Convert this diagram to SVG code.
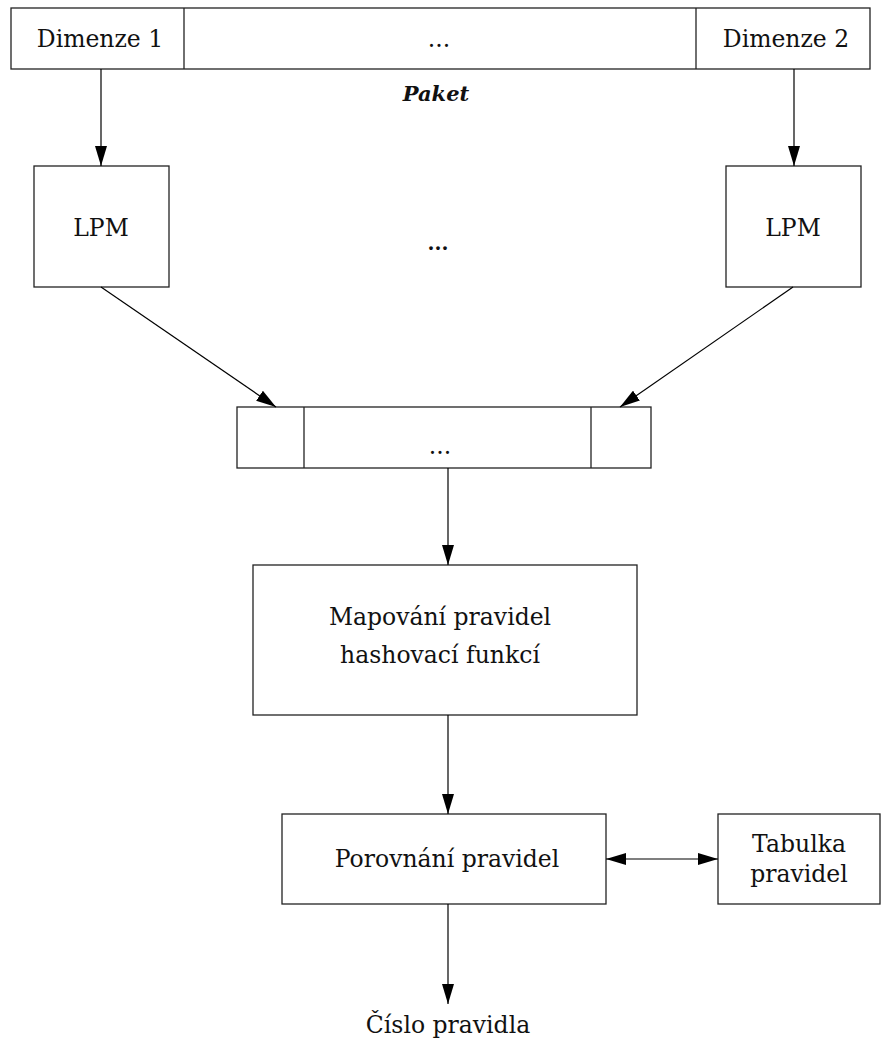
<svg xmlns="http://www.w3.org/2000/svg" width="896" height="1041" viewBox="0 0 896 1041">
  <defs>
    <marker id="arrow" viewBox="0 0 20 12" refX="20" refY="6" markerWidth="20" markerHeight="12" markerUnits="userSpaceOnUse" orient="auto-start-reverse">
      <path d="M0,0 L20,6 L0,12 Z" fill="#000"/>
    </marker>
    <style>
      rect, line.div { fill: #fff; stroke: #222; stroke-width: 1.3; }
      line.div { fill: none; }
      .edge { stroke: #000; stroke-width: 1.2; fill: none; marker-end: url(#arrow); }
      text { font-family: "DejaVu Serif", "Liberation Serif", serif; font-size: 23.5px; fill: #111; text-anchor: middle; }
      .title { font-weight: bold; font-style: italic; font-size: 21px; }
      .dots { font-weight: bold; font-size: 20px; }
    </style>
  </defs>

  <!-- packet header split into fields -->
  <g id="paket">
    <rect x="11" y="8" width="859" height="61"/>
    <line class="div" x1="184" y1="8" x2="184" y2="69"/>
    <line class="div" x1="696" y1="8" x2="696" y2="69"/>
    <text x="100" y="47">Dimenze 1</text>
    <text x="439" y="47">...</text>
    <text x="786" y="47">Dimenze 2</text>
    <text class="title" x="436" y="101">Paket</text>
  </g>

  <!-- longest prefix match engines -->
  <g id="lpm1">
    <rect x="34" y="166" width="135" height="121"/>
    <text x="101" y="236">LPM</text>
  </g>
  <g id="lpm-more">
    <text class="dots" x="438" y="250">...</text>
  </g>
  <g id="lpm2">
    <rect x="726" y="166" width="135" height="121"/>
    <text x="793" y="236">LPM</text>
  </g>

  <!-- concatenated LPM results -->
  <g id="vysledky">
    <rect x="237" y="407" width="414" height="61"/>
    <line class="div" x1="304" y1="407" x2="304" y2="468"/>
    <line class="div" x1="591" y1="407" x2="591" y2="468"/>
    <text x="440" y="454">...</text>
  </g>

  <g id="mapovani">
    <rect x="253" y="565" width="384" height="150"/>
    <text x="440" y="625">Mapování pravidel</text>
    <text x="440" y="663">hashovací funkcí</text>
  </g>

  <g id="porovnani">
    <rect x="282" y="814" width="324" height="90"/>
    <text x="447" y="867">Porovnání pravidel</text>
  </g>

  <g id="tabulka">
    <rect x="718" y="814" width="162" height="90"/>
    <text x="799" y="852">Tabulka</text>
    <text x="799" y="882">pravidel</text>
  </g>

  <g id="vystup">
    <text x="448" y="1033">Číslo pravidla</text>
  </g>

  <!-- connectors -->
  <g id="connectors">
    <line class="edge" x1="101" y1="69" x2="101" y2="166"/>
    <line class="edge" x1="794" y1="69" x2="794" y2="166"/>
    <line class="edge" x1="101" y1="287" x2="276" y2="407"/>
    <line class="edge" x1="793" y1="287" x2="620" y2="407"/>
    <line class="edge" x1="448" y1="468" x2="448" y2="565"/>
    <line class="edge" x1="448" y1="715" x2="448" y2="814"/>
    <line class="edge" x1="606" y1="859" x2="718" y2="859" style="marker-start:url(#arrow)"/>
    <line class="edge" x1="448" y1="904" x2="448" y2="1004"/>
  </g>
</svg>
